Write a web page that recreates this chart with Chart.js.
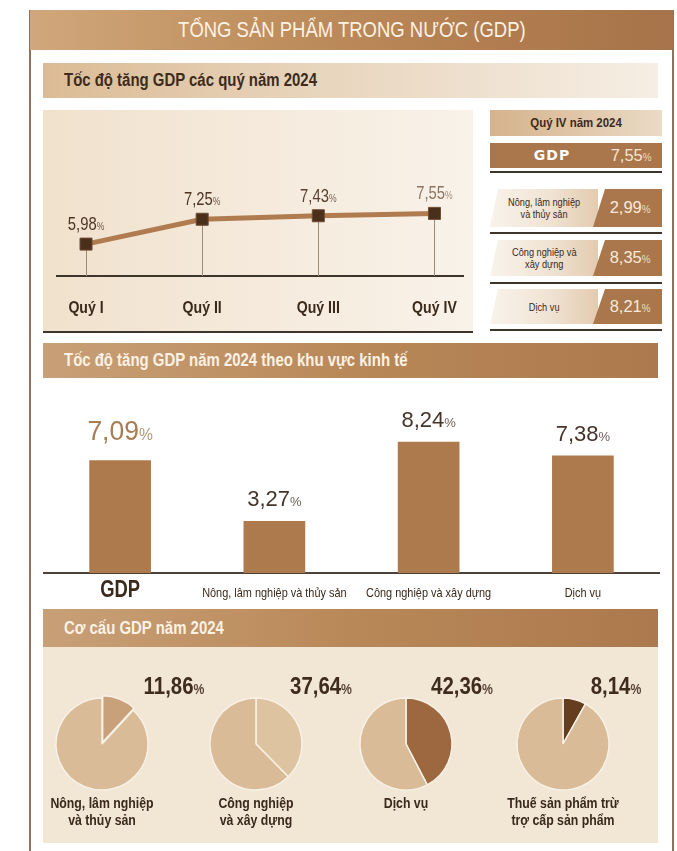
<!DOCTYPE html>
<html lang="vi">
<head>
<meta charset="utf-8">
<title>Tổng sản phẩm trong nước (GDP)</title>
<script src="https://cdn.jsdelivr.net/npm/chart.js@4.4.1/dist/chart.umd.min.js"></script>
<style>
  body {
    margin: 0;
    width: 677px;
    height: 851px;
    position: relative;
    overflow: hidden;
    background: #fff;
    font-family: "Liberation Sans", Arial, sans-serif;
  }
  .abs { position: absolute; }
  /* narrow look: horizontally squeezed text */
  .sx { display: inline-block; white-space: nowrap; transform: scaleX(var(--sx)); transform-origin: center; }
  .sx.left { transform-origin: left center; }
  .frame { top: 10px; bottom: 0; width: 2px; background: #8c735d; }
  .header {
    left: 30px; top: 10px; width: 643px; height: 40px;
    background: linear-gradient(90deg, #d0a77c 0%, #c0905f 35%, #b27e50 70%, #a6734a 100%);
    color: #fcf2e5; font-size: 22px; line-height: 40px; text-align: center;
  }
  .band {
    left: 43px; width: 615px; height: 35px;
    font-size: 18px; font-weight: bold; line-height: 35px;
    box-sizing: border-box; padding-left: 21px;
  }
  .band.light {
    background: linear-gradient(90deg, #dbbb95 0%, #e8d5bd 45%, #f6eee4 100%);
    color: #3d2b1c;
  }
  .band.dark {
    background: linear-gradient(90deg, #c8a077 0%, #b98858 50%, #ab794d 100%);
    color: #fbf1e4;
  }
  .quarter-panel {
    left: 43px; top: 110px; width: 430px; height: 221px;
    border-bottom: 2px solid #3d342c;
    background: linear-gradient(90deg, #f0e1cc 0%, #f5eadc 50%, #f9f2e9 100%);
  }
  .q4-title {
    left: 490px; top: 110px; width: 172px; height: 26px;
    background: linear-gradient(90deg, #d5b38c 0%, #e0c6a8 50%, #ebdac6 100%);
    color: #3d2b1c; font-weight: bold; font-size: 13px; line-height: 26px; text-align: center;
  }
  .q4-gdp {
    left: 490px; top: 143px; width: 172px; height: 25px;
    background: #a9774b;
  }
  .q4-gdp .name {
    position: absolute; left: 0; width: 124px; text-align: center;
    font-family: "DejaVu Sans", sans-serif; font-weight: bold; font-size: 14px;
    letter-spacing: 1px; line-height: 25px; color: #fff;
  }
  .q4-gdp .val {
    position: absolute; left: 110px; width: 62px; text-align: center;
    font-size: 17px; line-height: 25px; color: #f6e6d2;
  }
  .rule { left: 490px; width: 172px; height: 2px; background: #3d342c; }
  .q4-row { left: 490px; width: 172px; }
  .q4-row .txt {
    position: absolute; left: 0; top: 0; bottom: 0; width: 108px;
    background: linear-gradient(90deg, #f9f3eb 0%, #f0e3d3 55%, #e3cbb0 100%);
    clip-path: polygon(8px 0, 100% 0, 100% 100%, 0 100%);
    display: flex; justify-content: center; align-items: center;
    color: #3a2a1c; font-size: 11.5px; line-height: 12px; text-align: center;
  }
  .q4-row .box {
    position: absolute; left: 103px; top: 0; bottom: 0; width: 69px;
    background: #a9774b;
    clip-path: polygon(12px 0, 100% 0, 100% 100%, 0 100%);
    display: flex; justify-content: center; align-items: center;
    padding-left: 6px; box-sizing: border-box;
    color: #f8eadb; font-size: 17px;
  }
  small.pct { font-size: 0.6em; opacity: 0.85; }
  .pie-panel {
    left: 43px; top: 647px; width: 615px; height: 196px;
    background: #f2e6d5;
  }
  .pie-label {
    transform: translate(-50%, -50%);
    font-size: 24px; font-weight: bold; color: #3e2c1d; white-space: nowrap;
  }
  .pie-caption {
    transform: translateX(-50%);
    font-size: 15px; font-weight: bold; line-height: 17px; color: #3a2a1c;
    text-align: center; white-space: nowrap;
  }
</style>
</head>
<body>

<div class="abs frame" style="left:29px"></div>
<div class="abs frame" style="left:672px"></div>
<div class="abs header"><span class="sx" style="--sx:0.84">TỔNG SẢN PHẨM TRONG NƯỚC (GDP)</span></div>

<div class="abs band light" style="top:63px"><span class="sx left" style="--sx:0.83">Tốc độ tăng GDP các quý năm 2024</span></div>
<div class="abs quarter-panel">
  <canvas id="quarterChart" width="430" height="221"></canvas>
</div>

<div class="abs q4-title"><span class="sx" style="--sx:0.88">Quý IV năm 2024</span></div>
<div class="abs q4-gdp"><div class="name">GDP</div><div class="val" id="q4GdpVal"></div></div>
<div id="q4Rows"></div>

<div class="abs band dark" style="top:343px"><span class="sx left" style="--sx:0.83">Tốc độ tăng GDP năm 2024 theo khu vực kinh tế</span></div>
<div class="abs" style="left:43px; top:380px">
  <canvas id="sectorChart" width="617" height="228"></canvas>
</div>

<div class="abs band dark" style="top:609px; height:38px; line-height:38px"><span class="sx left" style="--sx:0.83">Cơ cấu GDP năm 2024</span></div>
<div class="abs pie-panel"></div>
<div id="pies"></div>

<script>
const FONT = '"Liberation Sans", Arial, sans-serif';

// Tốc độ tăng GDP các quý năm 2024 (%)
const quarters = ['Quý I', 'Quý II', 'Quý III', 'Quý IV'];
const quarterGrowth = [5.98, 7.25, 7.43, 7.55];

// Quý IV năm 2024 (%)
const q4Gdp = 7.55;
const q4Sectors = [['Nông, lâm nghiệp', 'và thủy sản'], ['Công nghiệp và', 'xây dựng'], ['Dịch vụ']];
const q4Growth = [2.99, 8.35, 8.21];

// Tốc độ tăng GDP năm 2024 theo khu vực kinh tế (%)
const sectors = ['GDP', 'Nông, lâm nghiệp và thủy sản', 'Công nghiệp và xây dựng', 'Dịch vụ'];
const sectorGrowth = [7.09, 3.27, 8.24, 7.38];

// Cơ cấu GDP năm 2024 (%)
const shareNames = [['Nông, lâm nghiệp', 'và thủy sản'], ['Công nghiệp', 'và xây dựng'], ['Dịch vụ'], ['Thuế sản phẩm trừ', 'trợ cấp sản phẩm']];
const shares = [11.86, 37.64, 42.36, 8.14];

// styling
const quarterLabelColors = ['#4c3623', '#4c3623', '#574231', '#8a7663'];
const pieColors = ['#c8a07a', '#ddc3a0', '#9d683f', '#653e1f'];
const pieRest = '#d9bc97';
const pieCenters = [102, 256, 406, 563];
const pieLabelX = [174, 321, 462, 616];
const q4RowTops = [189, 240, 289];
const q4RowHeights = [38, 36, 35];
const q4RuleTops = [171, 232, 282, 329];

const fmt = v => v.toFixed(2).replace('.', ',');
const pctHtml = v => fmt(v) + '<small class="pct">%</small>';
const squeeze = (html, sx) => `<span class="sx" style="--sx:${sx}">${html}</span>`;

// text squeezed horizontally around its anchor
function fillNarrow(ctx, text, x, y, sx) {
  ctx.save();
  ctx.translate(x, y);
  ctx.scale(sx, 1);
  ctx.fillText(text, 0, 0);
  ctx.restore();
}

// number with a smaller % sign, centred on x
function drawValue(ctx, v, x, y, size, color, weight, sx) {
  const numFont = `${weight} ${size}px ${FONT}`;
  const pctFont = `${weight} ${Math.round(size * 0.6)}px ${FONT}`;
  const text = fmt(v);
  ctx.save();
  ctx.font = numFont;
  const w1 = ctx.measureText(text).width * sx;
  ctx.font = pctFont;
  const w2 = ctx.measureText('%').width * sx;
  const x0 = x - (w1 + w2) / 2;
  ctx.fillStyle = color;
  ctx.textAlign = 'left';
  ctx.textBaseline = 'alphabetic';
  ctx.font = numFont;
  fillNarrow(ctx, text, x0, y, sx);
  ctx.font = pctFont;
  ctx.globalAlpha = 0.8;
  fillNarrow(ctx, '%', x0 + w1, y, sx);
  ctx.restore();
}

// ---- quarterly line ----
const quarterDecor = {
  id: 'quarterDecor',
  beforeDatasetsDraw(chart) {
    const ctx = chart.ctx;
    const bottom = chart.chartArea.bottom;
    ctx.save();
    ctx.strokeStyle = '#9a8b7b';
    ctx.lineWidth = 1;
    chart.getDatasetMeta(0).data.forEach(pt => {
      ctx.beginPath();
      ctx.moveTo(Math.round(pt.x) + 0.5, pt.y);
      ctx.lineTo(Math.round(pt.x) + 0.5, bottom);
      ctx.stroke();
    });
    ctx.restore();
  },
  afterDatasetsDraw(chart) {
    const ctx = chart.ctx;
    const bottom = chart.chartArea.bottom;
    chart.getDatasetMeta(0).data.forEach((pt, i) => {
      drawValue(ctx, quarterGrowth[i], pt.x, pt.y - 14, 19, quarterLabelColors[i], 'normal', 0.78);
      ctx.save();
      ctx.font = `bold 17px ${FONT}`;
      ctx.fillStyle = '#3a2a1c';
      ctx.textAlign = 'center';
      ctx.textBaseline = 'middle';
      fillNarrow(ctx, quarters[i], pt.x, bottom + 32, 0.83);
      ctx.restore();
    });
  }
};

new Chart(document.getElementById('quarterChart'), {
  type: 'line',
  data: {
    datasets: [{
      data: quarterGrowth.map((v, i) => ({ x: i, y: v })),
      borderColor: '#b07c4f',
      borderWidth: 5,
      tension: 0,
      pointStyle: 'rect',
      pointRadius: 8.5,
      pointBackgroundColor: '#4a2f1b',
      pointBorderColor: '#6e4d33',
      pointBorderWidth: 1
    }]
  },
  options: {
    responsive: false,
    animation: false,
    events: [],
    layout: { padding: { left: 14, right: 6, top: 6, bottom: 55 } },
    scales: {
      x: {
        type: 'linear', min: -0.25, max: 3.25,
        grid: { display: false, drawTicks: false },
        ticks: { display: false },
        border: { color: '#3d342c', width: 2 }
      },
      y: { min: 4.35, max: 12.35, display: false }
    },
    plugins: { legend: { display: false }, tooltip: { enabled: false } }
  },
  plugins: [quarterDecor]
});

// ---- Q4 side table ----
document.getElementById('q4GdpVal').innerHTML = squeeze(pctHtml(q4Gdp), 0.97);
let rows = '';
q4RuleTops.forEach(t => { rows += `<div class="abs rule" style="top:${t}px"></div>`; });
q4Sectors.forEach((lines, i) => {
  rows += `<div class="abs q4-row" style="top:${q4RowTops[i]}px; height:${q4RowHeights[i]}px">` +
          `<div class="txt">${squeeze(lines.join('<br>'), 0.8)}</div>` +
          `<div class="box">${squeeze(pctHtml(q4Growth[i]), 0.97)}</div></div>`;
});
document.getElementById('q4Rows').innerHTML = rows;

// ---- sector bars ----
const sectorDecor = {
  id: 'sectorDecor',
  afterDatasetsDraw(chart) {
    const ctx = chart.ctx;
    const bottom = chart.chartArea.bottom;
    const xs = chart.scales.x;
    chart.getDatasetMeta(0).data.forEach((bar, i) => {
      if (i === 0) {
        drawValue(ctx, sectorGrowth[i], bar.x, bar.y - 20, 27, '#a67c55', 'normal', 0.98);
      } else {
        drawValue(ctx, sectorGrowth[i], bar.x, bar.y - 15, 22, '#46342a', 'normal', 1);
      }
      ctx.save();
      ctx.textAlign = 'center';
      ctx.textBaseline = 'middle';
      ctx.fillStyle = '#3a2a1c';
      if (i === 0) {
        ctx.font = `bold 23px ${FONT}`;
        fillNarrow(ctx, sectors[i], xs.getPixelForValue(i), bottom + 18, 0.8);
      } else {
        ctx.font = `13px ${FONT}`;
        fillNarrow(ctx, sectors[i], xs.getPixelForValue(i), bottom + 20, 0.84);
      }
      ctx.restore();
    });
  }
};

new Chart(document.getElementById('sectorChart'), {
  type: 'bar',
  data: {
    labels: sectors,
    datasets: [{
      data: sectorGrowth,
      backgroundColor: '#ad7a4d',
      categoryPercentage: 1,
      barPercentage: 0.4
    }]
  },
  options: {
    responsive: false,
    animation: false,
    events: [],
    layout: { padding: { top: 2, bottom: 35, left: 0, right: 0 } },
    scales: {
      x: {
        grid: { display: false, drawTicks: false },
        ticks: { display: false },
        border: { color: '#4a423b', width: 2 }
      },
      y: { min: 0, max: 12, display: false }
    },
    plugins: { legend: { display: false }, tooltip: { enabled: false } }
  },
  plugins: [sectorDecor]
});

// ---- GDP structure pies ----
const pieBox = document.getElementById('pies');
shares.forEach((v, i) => {
  const cx = pieCenters[i];
  const wrap = document.createElement('div');
  wrap.className = 'abs';
  wrap.style.left = (cx - 55) + 'px';
  wrap.style.top = '689px';
  const cv = document.createElement('canvas');
  cv.width = 110;
  cv.height = 110;
  wrap.appendChild(cv);
  pieBox.appendChild(wrap);

  const lbl = document.createElement('div');
  lbl.className = 'abs pie-label';
  lbl.style.left = pieLabelX[i] + 'px';
  lbl.style.top = '686px';
  lbl.innerHTML = squeeze(pctHtml(v), 0.85);
  pieBox.appendChild(lbl);

  const cap = document.createElement('div');
  cap.className = 'abs pie-caption';
  cap.style.left = cx + 'px';
  cap.style.top = '794px';
  cap.innerHTML = squeeze(shareNames[i].join('<br>'), 0.82);
  pieBox.appendChild(cap);

  new Chart(cv, {
    type: 'pie',
    data: {
      labels: [shareNames[i].join(' '), 'Còn lại'],
      datasets: [{
        data: [v, 100 - v],
        backgroundColor: [pieColors[i], pieRest],
        borderColor: '#f8f1e7',
        borderWidth: 1.5,
        offset: [i === 0 ? 7 : 0, 0],
        radius: 46
      }]
    },
    options: {
      responsive: false,
      animation: false,
      events: [],
      plugins: { legend: { display: false }, tooltip: { enabled: false } }
    }
  });
});
</script>
</body>
</html>
